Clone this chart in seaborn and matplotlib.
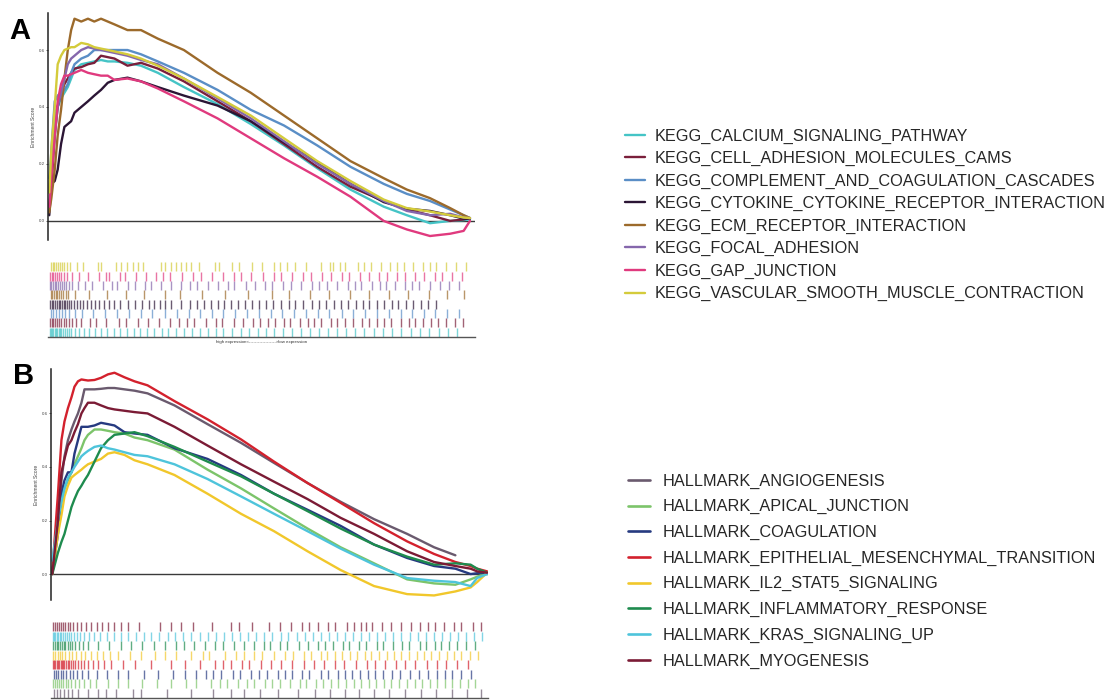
import numpy as np
import pandas as pd
import matplotlib
matplotlib.use("Agg")
import matplotlib.pyplot as plt
from matplotlib.lines import Line2D
import seaborn as sns

# ---------------- data ----------------
# Panel A (KEGG) — rank position (%) grid and running enrichment scores
X_A = [0, 0.5, 1.3, 2.0, 2.8, 3.6, 4.4, 5.2, 6.0, 7.6, 9.2, 10.7, 12.3, 13.9, 15.5,
       18.6, 21.8, 25.8, 32.0, 40.0, 47.9, 55.8, 63.7, 71.6, 79.5, 85.0, 90.5, 95.3, 98.5, 100]
KEGG_TERMS = ["KEGG_CALCIUM_SIGNALING_PATHWAY", "KEGG_CELL_ADHESION_MOLECULES_CAMS",
              "KEGG_COMPLEMENT_AND_COAGULATION_CASCADES", "KEGG_CYTOKINE_CYTOKINE_RECEPTOR_INTERACTION",
              "KEGG_ECM_RECEPTOR_INTERACTION", "KEGG_FOCAL_ADHESION", "KEGG_GAP_JUNCTION",
              "KEGG_VASCULAR_SMOOTH_MUSCLE_CONTRACTION"]
KEGG_COLORS = ["#45C4C6", "#7A1F3B", "#5A8EC6", "#2B1535", "#9C6A2B", "#8567AC", "#E03A7E", "#D4CB3B"]

ES_CALCIUM = [0.15, 0.22, 0.38, 0.40, 0.43, 0.45, 0.47, 0.50, 0.53, 0.55, 0.555, 0.56, 0.565, 0.56, 0.56,
              0.555, 0.545, 0.52, 0.47, 0.41, 0.34, 0.265, 0.185, 0.11, 0.05, 0.02, -0.008, 0.0, 0.003, 0.005]
ES_CELL_ADH = [0.05, 0.12, 0.30, 0.40, 0.45, 0.48, 0.50, 0.52, 0.535, 0.54, 0.55, 0.555, 0.58, 0.575, 0.57,
               0.545, 0.555, 0.535, 0.49, 0.42, 0.35, 0.27, 0.19, 0.12, 0.07, 0.04, 0.02, 0.0, 0.005, 0.01]
ES_COMPLEMENT = [0.10, 0.25, 0.42, 0.44, 0.45, 0.46, 0.48, 0.52, 0.55, 0.57, 0.58, 0.60, 0.60, 0.60, 0.60,
                 0.60, 0.585, 0.56, 0.52, 0.46, 0.39, 0.335, 0.265, 0.19, 0.13, 0.095, 0.07, 0.04, 0.02, 0.01]
ES_CYTOKINE = [0.02, 0.13, 0.14, 0.18, 0.27, 0.33, 0.34, 0.35, 0.38, 0.40, 0.42, 0.44, 0.46, 0.485, 0.495,
               0.503, 0.49, 0.47, 0.44, 0.405, 0.35, 0.276, 0.206, 0.13, 0.066, 0.043, 0.035, 0.02, 0.008, 0.008]
ES_ECM = [0.03, 0.08, 0.18, 0.30, 0.39, 0.50, 0.60, 0.67, 0.71, 0.70, 0.71, 0.70, 0.71, 0.70, 0.69,
          0.67, 0.67, 0.64, 0.60, 0.52, 0.45, 0.37, 0.29, 0.21, 0.15, 0.11, 0.08, 0.045, 0.02, 0.01]
ES_FOCAL = [0.10, 0.18, 0.30, 0.40, 0.45, 0.50, 0.55, 0.57, 0.58, 0.60, 0.61, 0.605, 0.60, 0.595, 0.59,
            0.58, 0.565, 0.55, 0.50, 0.43, 0.36, 0.28, 0.20, 0.13, 0.07, 0.035, 0.02, 0.025, 0.012, 0.01]
ES_GAP = [0.05, 0.15, 0.30, 0.42, 0.48, 0.51, 0.51, 0.515, 0.52, 0.53, 0.52, 0.515, 0.51, 0.51, 0.495,
          0.50, 0.49, 0.465, 0.42, 0.36, 0.29, 0.22, 0.155, 0.085, 0.0, -0.03, -0.053, -0.045, -0.035, 0.0]
ES_VASCULAR = [0.10, 0.25, 0.40, 0.55, 0.58, 0.60, 0.605, 0.61, 0.61, 0.625, 0.62, 0.61, 0.605, 0.60, 0.595,
               0.585, 0.57, 0.545, 0.50, 0.435, 0.37, 0.29, 0.21, 0.14, 0.075, 0.045, 0.033, 0.02, 0.012, 0.01]

# Panel B (HALLMARK)
X_B = [0, 1.3, 2.1, 2.8, 3.6, 4.4, 5.1, 5.9, 6.7, 7.4, 8.2, 9.7, 11.2, 12.8, 14.3, 16.6, 18.9, 21.9,
       28.1, 35.7, 43.4, 51.0, 58.7, 66.3, 74.0, 81.6, 87.8, 92.7, 96.2, 97.7, 100]
HALL_TERMS = ["HALLMARK_ANGIOGENESIS", "HALLMARK_APICAL_JUNCTION", "HALLMARK_COAGULATION",
              "HALLMARK_EPITHELIAL_MESENCHYMAL_TRANSITION", "HALLMARK_IL2_STAT5_SIGNALING",
              "HALLMARK_INFLAMMATORY_RESPONSE", "HALLMARK_KRAS_SIGNALING_UP", "HALLMARK_MYOGENESIS"]
HALL_COLORS = ["#6A5A6E", "#7CC46A", "#263A80", "#D3212D", "#F1C72B", "#1E8B4E", "#4EC4DB", "#7B1B35"]

ES_ANGIO = [0.0, 0.20, 0.35, 0.44, 0.50, 0.54, 0.57, 0.60, 0.64, 0.69, 0.69, 0.69, 0.692, 0.695, 0.695, 0.69,
            0.685, 0.675, 0.63, 0.56, 0.49, 0.415, 0.34, 0.27, 0.205, 0.15, 0.10, 0.07, np.nan, np.nan, np.nan]
ES_APICAL = [0.0, 0.20, 0.27, 0.32, 0.35, 0.38, 0.41, 0.44, 0.47, 0.50, 0.52, 0.54, 0.54, 0.535, 0.53, 0.525,
             0.51, 0.50, 0.465, 0.39, 0.32, 0.245, 0.17, 0.10, 0.04, -0.02, -0.035, -0.04, -0.02, -0.01, 0.005]
ES_COAG = [0.0, 0.15, 0.30, 0.35, 0.38, 0.38, 0.45, 0.50, 0.55, 0.55, 0.55, 0.555, 0.565, 0.56, 0.555, 0.53,
           0.525, 0.52, 0.47, 0.43, 0.37, 0.30, 0.24, 0.18, 0.11, 0.06, 0.03, 0.02, 0.0, 0.003, 0.005]
ES_EMT = [0.01, 0.30, 0.50, 0.57, 0.62, 0.66, 0.70, 0.72, 0.727, 0.725, 0.723, 0.725, 0.733, 0.746, 0.752, 0.735,
          0.72, 0.705, 0.646, 0.578, 0.503, 0.42, 0.34, 0.266, 0.19, 0.122, 0.075, 0.045, 0.03, 0.02, 0.01]
ES_IL2 = [0.0, 0.15, 0.22, 0.29, 0.33, 0.36, 0.37, 0.38, 0.39, 0.40, 0.41, 0.42, 0.43, 0.45, 0.455, 0.445,
          0.425, 0.41, 0.37, 0.30, 0.225, 0.16, 0.085, 0.015, -0.045, -0.075, -0.08, -0.065, -0.05, -0.03, 0.005]
ES_INFL = [0.0, 0.08, 0.12, 0.15, 0.20, 0.25, 0.28, 0.31, 0.33, 0.35, 0.37, 0.42, 0.47, 0.50, 0.52, 0.525,
           0.53, 0.515, 0.475, 0.42, 0.365, 0.30, 0.235, 0.17, 0.11, 0.065, 0.035, 0.04, 0.035, 0.02, 0.005]
ES_KRAS = [0.05, 0.20, 0.27, 0.32, 0.36, 0.38, 0.40, 0.42, 0.44, 0.45, 0.46, 0.475, 0.48, 0.47, 0.465, 0.455,
           0.445, 0.44, 0.41, 0.355, 0.29, 0.225, 0.16, 0.095, 0.035, -0.015, -0.025, -0.03, -0.045, -0.015, 0.0]
ES_MYO = [0.0, 0.20, 0.38, 0.43, 0.48, 0.50, 0.53, 0.56, 0.60, 0.62, 0.64, 0.64, 0.63, 0.62, 0.615, 0.61,
          0.605, 0.60, 0.55, 0.48, 0.41, 0.345, 0.28, 0.21, 0.15, 0.085, 0.045, 0.03, 0.02, 0.01, 0.005]

# Gene-hit positions (rank %) for the rug panels
A_HITS_CALCIUM = [0.1,0.4,0.7,1.0,1.3,1.6,1.9,2.2,2.5,2.9,3.3,3.7,4.1,4.6,5.1,6.0,7.1,8.3,9.5,10.9,12.4,13.8,15.3,16.9,18.4,20.1,21.6,23.3,25.0,26.7,28.3,30.2,32.0,33.9,35.8,37.7,39.6,41.4,43.5,45.5,47.4,49.6,51.5,53.4,55.6,57.7,59.8,62.0,64.1,66.3,68.4,70.6,72.7,74.9,77.1,79.3,81.5,83.7,85.9,88.1,90.3,92.6,94.8,97.0]
A_HITS_CELL_ADH = [0.2,0.6,1.0,1.4,1.8,2.3,2.8,3.4,4.0,4.7,5.5,6.4,7.6,9.8,11.2,13.6,16.5,18.3,21.0,23.4,26.1,28.7,30.9,32.8,34.5,37.2,39.6,41.0,43.8,46.1,48.4,50.0,51.9,53.6,55.8,57.3,59.5,61.4,63.0,64.6,66.9,68.5,70.2,72.1,74.4,76.0,77.8,79.5,81.3,83.6,85.4,87.0,88.9,90.7,92.4,94.2,96.5,98.3]
A_HITS_COMPLEMENT = [0.4,0.9,1.5,2.2,3.0,3.8,4.8,6.0,7.9,10.5,13.3,16.0,18.9,21.7,24.4,27.5,30.3,33.1,35.8,38.6,41.4,44.2,47.0,49.9,52.7,55.4,58.2,61.0,63.8,66.6,69.5,72.3,75.1,77.9,80.7,83.5,86.2,89.0,91.8,94.6,97.4]
A_HITS_CYTOKINE = [0.2,0.6,1.0,1.4,1.8,2.2,2.6,3.0,3.4,3.8,4.2,4.7,5.2,5.8,6.5,7.3,8.1,9.0,9.9,10.8,11.9,13.0,14.2,15.5,16.8,18.6,20.4,22.0,23.7,24.9,26.3,27.6,29.0,31.2,33.5,35.0,36.9,38.4,40.1,41.6,43.3,44.9,46.5,48.2,49.8,51.6,53.3,55.0,56.9,58.5,60.3,62.4,64.1,65.8,67.6,69.3,71.0,72.8,74.5,76.1,77.9,79.6,81.4,83.0,84.8,86.5,88.3,90.1,91.9]
A_HITS_ECM = [0.3,0.7,1.1,1.5,1.9,2.3,2.8,3.3,3.9,4.5,6.2,9.5,13.8,18.2,22.5,27.6,31.0,36.4,41.8,47.3,52.9,57.1,62.0,66.4,71.5,75.9,80.8,85.3,90.2,94.6,98.5]
A_HITS_FOCAL = [0.2,0.5,0.9,1.3,1.7,2.1,2.6,3.0,3.5,4.0,4.6,5.3,6.8,8.5,10.1,12.7,14.9,16.2,18.7,20.3,22.8,24.1,26.6,28.9,31.3,33.5,35.1,37.8,40.2,42.4,44.0,46.7,48.9,51.2,53.0,55.6,57.4,59.9,62.5,64.2,66.0,68.3,70.9,72.6,74.1,76.8,78.5,80.0,82.3,84.6,86.2,88.0,90.5,92.8,95.1,97.4]
A_HITS_GAP = [0.2,0.6,1.0,1.4,1.9,2.4,2.9,3.5,4.1,5.5,7.0,9.2,11.8,13.5,14.2,16.8,18.0,20.5,23.1,25.4,27.0,28.8,31.5,34.2,36.0,38.7,41.2,43.9,45.5,48.0,50.8,53.4,55.0,57.6,60.3,62.1,64.8,67.0,69.5,71.2,73.8,76.1,78.4,80.2,82.7,84.5,86.9,89.1,91.6,93.3,95.8,98.2]
A_HITS_VASCULAR = [0.3,0.8,1.2,1.7,2.1,2.6,3.1,3.6,4.2,5.0,6.5,8.0,11.5,12.3,15.8,17.0,18.5,19.8,21.0,22.4,26.5,27.5,29.0,30.2,31.4,32.6,33.8,35.5,39.5,40.3,43.5,45.0,48.2,50.5,53.5,54.8,56.5,58.5,61.0,64.5,66.8,67.5,69.2,70.4,73.5,74.8,76.5,78.8,81.0,82.6,84.3,86.5,88.8,90.4,92.0,94.3,96.8,99.0]

B_HITS_ANGIO = [0.3,1.0,1.8,2.7,3.5,4.6,6.0,8.3,10.5,12.4,14.7,18.6,20.5,26.3,31.8,36.9,41.0,44.2,47.8,52.0,56.5,60.3,63.9,67.2,70.6,74.0,77.5,81.2,84.8,88.3,91.9,95.4,98.7]
B_HITS_APICAL = [0.2,0.6,1.0,1.5,2.0,2.5,3.1,3.7,4.4,5.2,6.1,7.2,8.6,10.0,12.8,15.0,17.5,20.7,24.0,27.3,30.8,33.0,36.4,38.5,40.1,42.6,44.8,46.3,48.9,50.6,52.3,54.7,56.9,58.4,60.6,62.3,64.0,65.8,67.5,69.3,71.0,72.8,74.5,76.3,78.0,79.8,81.5,83.3,85.0,86.8,88.5,90.3,92.0,93.8,95.5,97.3]
B_HITS_COAG = [0.3,0.8,1.3,1.9,2.5,3.2,4.0,4.8,5.7,6.8,8.1,10.2,12.5,15.1,17.3,21.0,24.3,27.8,30.6,33.1,35.4,37.0,38.8,41.5,43.2,45.8,47.6,49.3,51.9,53.4,55.2,57.5,59.1,61.7,63.3,65.6,67.2,69.0,70.8,72.5,74.3,76.0,78.1,80.0,82.2,84.3,86.5,88.4,90.2,92.0,94.1,96.3]
B_HITS_EMT = [0.1,0.4,0.7,1.0,1.3,1.6,1.9,2.2,2.5,2.8,3.1,3.5,3.9,4.3,4.8,5.3,5.9,6.6,7.4,8.3,9.4,10.6,12.0,13.6,16.3,19.1,22.8,27.2,30.5,34.0,37.5,39.2,41.0,43.7,45.3,47.9,50.4,52.6,55.1,57.8,60.2,62.5,64.9,67.0,69.8,72.4,74.1,76.5,79.0,81.2,83.5,86.1,88.4,90.6,93.0,95.7]
B_HITS_IL2 = [0.2,0.7,1.2,1.7,2.3,3.0,3.8,4.6,5.5,6.5,7.6,8.8,10.3,11.7,13.2,15.0,17.8,20.5,23.7,26.0,28.4,31.9,34.6,36.1,39.7,42.3,44.0,46.5,48.2,51.0,53.6,55.3,57.8,59.4,61.9,63.2,65.0,66.7,68.5,70.1,71.8,73.4,75.2,76.9,78.6,80.3,82.1,83.8,85.5,87.2,89.0,90.7,92.4,94.1,96.0,98.0]
B_HITS_INFL = [0.2,0.6,1.0,1.4,1.8,2.2,2.6,3.0,3.5,4.0,4.6,5.3,6.1,7.0,8.2,10.5,13.0,15.8,18.2,20.6,23.4,26.0,28.5,30.3,32.7,35.1,37.5,39.2,41.8,44.0,46.3,48.6,50.1,52.4,54.0,56.7,58.9,61.0,62.8,64.5,66.9,68.3,70.5,72.2,74.6,76.0,78.3,80.4,82.1,84.6,86.0,87.9,89.5,91.3,93.0,95.2,97.1]
B_HITS_KRAS = [0.1,0.4,0.7,1.0,1.3,1.7,2.1,2.5,2.9,3.3,3.8,4.3,4.9,5.6,6.4,7.3,8.5,9.7,11.0,12.6,14.1,15.9,17.4,19.3,21.0,22.8,24.6,26.5,28.3,30.1,32.0,33.9,35.7,37.6,39.5,41.3,43.2,45.0,46.9,48.7,50.6,52.5,54.3,56.2,58.0,59.9,61.7,63.6,65.4,67.3,69.2,71.0,72.9,74.7,76.6,78.4,80.3,82.2,84.0,85.9,87.7,89.6,91.4,93.3,95.2,97.0,98.9]
B_HITS_MYO = [0.2,0.6,1.0,1.5,2.0,2.5,3.0,3.5,4.1,4.8,5.6,6.6,7.8,9.0,10.2,11.5,12.9,14.3,15.8,17.5,20.0,24.8,27.3,29.5,32.4,36.8,41.2,42.9,46.0,49.8,52.3,54.9,57.5,59.0,61.2,63.5,65.1,67.8,69.4,71.0,72.2,73.5,75.9,78.0,80.2,82.4,84.5,86.3,88.1,90.0,92.4,94.1,96.7,98.5]

Y_TICKS = [0.0, 0.2, 0.4, 0.6]
Y_TICK_LABELS = ["0.0", "0.2", "0.4", "0.6"]

KEGG_ES = [ES_CALCIUM, ES_CELL_ADH, ES_COMPLEMENT, ES_CYTOKINE, ES_ECM, ES_FOCAL, ES_GAP, ES_VASCULAR]
KEGG_HITS = [A_HITS_CALCIUM, A_HITS_CELL_ADH, A_HITS_COMPLEMENT, A_HITS_CYTOKINE, A_HITS_ECM,
             A_HITS_FOCAL, A_HITS_GAP, A_HITS_VASCULAR]
HALL_ES = [ES_ANGIO, ES_APICAL, ES_COAG, ES_EMT, ES_IL2, ES_INFL, ES_KRAS, ES_MYO]
HALL_HITS = [B_HITS_ANGIO, B_HITS_APICAL, B_HITS_COAG, B_HITS_EMT, B_HITS_IL2, B_HITS_INFL,
             B_HITS_KRAS, B_HITS_MYO]

# ---------------- figure ----------------
sns.set_theme(style="white")
plt.rcParams["font.family"] = ["Liberation Sans", "DejaVu Sans"]

W, H = 1105, 700
fig = plt.figure(figsize=(W / 100, H / 100), dpi=100)


def fig_rect(l, t, r, b):
    return [l / W, 1 - b / H, (r - l) / W, (b - t) / H]


def build_df(x, terms, series):
    rows = []
    for term, es in zip(terms, series):
        for xi, yi in zip(x, es):
            rows.append((xi, yi, term))
    df = pd.DataFrame(rows, columns=["rank", "es", "term"])
    return df.dropna()


def draw_panel(rect_es, rect_rug, x, terms, colors, series, hits, xmax, ylim, label, label_xy, show_expr):
    ax = fig.add_axes(rect_es)
    df = build_df(x, terms, series)
    sns.lineplot(data=df, x="rank", y="es", hue="term", hue_order=terms,
                 palette=dict(zip(terms, colors)), estimator=None, sort=False,
                 linewidth=1.7, legend=False, ax=ax)
    ax.axhline(0, color="#3a3a3a", lw=1.0, zorder=0)
    ax.set_xlim(-0.3, xmax)
    ax.set_ylim(*ylim)
    for s in ["top", "right", "bottom"]:
        ax.spines[s].set_visible(False)
    ax.spines["left"].set_color("#222222")
    ax.spines["left"].set_linewidth(1.1)
    ax.set_xticks([])
    ax.set_yticks(Y_TICKS)
    ax.set_yticklabels(Y_TICK_LABELS, fontsize=3.2, color="#444444")
    ax.tick_params(axis="y", length=1.5, width=0.5, pad=1, left=True)
    ax.set_xlabel("")
    ax.set_ylabel("Enrichment Score", fontsize=3.6, color="#444444", labelpad=2)
    ax.patch.set_alpha(0)

    rug = fig.add_axes(rect_rug)
    n = len(terms)
    for i, (hit, col) in enumerate(zip(hits, colors)):
        row = i  # first term at bottom row
        rug.vlines(hit, row + 0.02, row + 0.98, colors=col, lw=1.0, alpha=0.7)
    rug.set_xlim(-0.3, xmax)
    rug.set_ylim(0, n)
    for s in ["top", "right", "left"]:
        rug.spines[s].set_visible(False)
    rug.spines["bottom"].set_color("#555555")
    rug.spines["bottom"].set_linewidth(1.0)
    rug.set_xticks([])
    rug.set_yticks([])
    rug.patch.set_alpha(0)
    if show_expr:
        rug.text(0.5, -0.04, "high expression<------------------>low expression",
                 transform=rug.transAxes, ha="center", va="top", fontsize=3.2, color="#333333")

    fig.text(label_xy[0] / W, 1 - label_xy[1] / H, label, fontsize=21, fontweight="bold",
             ha="left", va="center", color="black")


draw_panel(fig_rect(48, 13, 475, 240), fig_rect(48, 262, 475, 337), X_A, KEGG_TERMS, KEGG_COLORS,
           KEGG_ES, KEGG_HITS, 101.2, (-0.067, 0.73), "A", (9, 31), True)
draw_panel(fig_rect(51, 369, 488, 600), fig_rect(51, 622, 488, 698), X_B, HALL_TERMS, HALL_COLORS,
           HALL_ES, HALL_HITS, 100.2, (-0.097, 0.766), "B", (13, 376), False)

# legends
hA = [Line2D([0], [0], color=c, lw=1.7) for c in KEGG_COLORS]
fig.legend(hA, KEGG_TERMS, loc="upper left", bbox_to_anchor=(625 / W, 1 - 128.5 / H),
           frameon=False, fontsize=11.7, handlelength=1.23, handletextpad=0.62,
           labelspacing=0.455, borderpad=0, borderaxespad=0)
hB = [Line2D([0], [0], color=c, lw=1.9) for c in HALL_COLORS]
fig.legend(hB, HALL_TERMS, loc="upper left", bbox_to_anchor=(628 / W, 1 - 473.5 / H),
           frameon=False, fontsize=11.7, handlelength=1.35, handletextpad=0.8,
           labelspacing=0.65, borderpad=0, borderaxespad=0)

fig.savefig("out.png", dpi=100, facecolor="white")
